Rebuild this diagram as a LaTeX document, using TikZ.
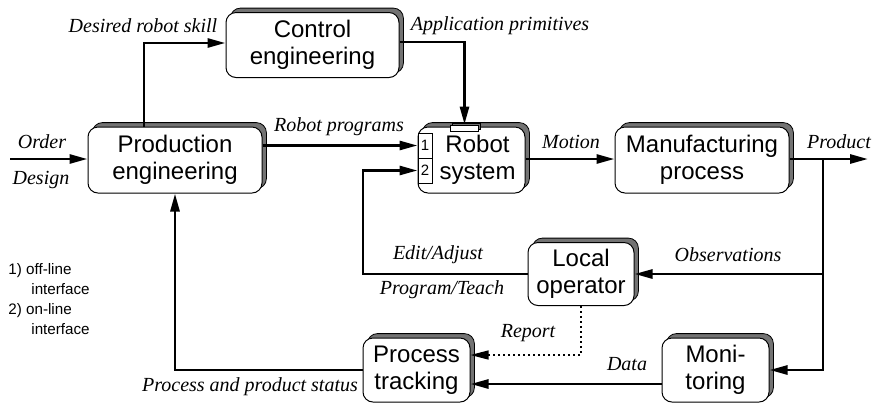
\documentclass[tikz,border=0pt]{standalone}
\usepackage{fontspec}
\setmainfont{Liberation Serif}
\setsansfont{Liberation Sans}
\usetikzlibrary{arrows.meta,shadows}

\begin{document}
\begin{tikzpicture}[x=0.5pt, y=-0.5pt,
  box/.style={rectangle, rounded corners=5pt, draw, line width=0.5pt, fill=white, align=center, inner sep=0pt, font=\sffamily\fontsize{12}{13.5}\selectfont, general shadow={fill=black!55, draw, line width=0.4pt, shadow xshift=2.2pt, shadow yshift=2.2pt}},
  cell/.style={rectangle, draw, line width=0.5pt, fill=white, minimum width=7pt, minimum height=12.5pt, inner sep=0pt, font=\sffamily\fontsize{7.5}{8}\selectfont},
  portbox/.style={rectangle, draw, line width=0.5pt, fill=white, minimum width=14pt, minimum height=3pt, inner sep=0pt, general shadow={fill=black!55, draw, line width=0.4pt, shadow xshift=1pt, shadow yshift=1pt}},
  lbl/.style={font=\itshape\fontsize{10}{12}\selectfont, inner sep=0pt},
  arr/.style={line width=1.4pt, -{Triangle[length=9pt,width=4.5pt]}}]
  \useasboundingbox (0,0) rectangle (872,404);

  \node[box, minimum width=86.5pt, minimum height=32.5pt] (ctrl) at (312.5,45) {Control\\engineering};
  \node[box, minimum width=87pt, minimum height=33pt] (prod) at (175,160) {Production\\engineering};
  \node[box, minimum width=53.5pt, minimum height=33pt] (robot) at (471.5,160) {\hspace*{6pt}Robot\\\hspace*{6pt}system};
  \node[box, minimum width=87pt, minimum height=33pt] (manuf) at (702,160) {Manufacturing\\process};
  \node[box, minimum width=53pt, minimum height=31.5pt] (local) at (581,274) {Local\\operator};
  \node[box, minimum width=53.5pt, minimum height=32pt] (track) at (416.5,370) {Process\\tracking};
  \node[box, minimum width=53.5pt, minimum height=32pt] (monit) at (715.5,370) {Moni-\\toring};

  \node[cell] (c1) at (425,145.5) {1};
  \node[cell] (c2) at (425,170.5) {2};
  \node[portbox] (port) at (464.5,128) {};

  \coordinate (in) at (10,159);
  \coordinate (out) at (868,159);
  \coordinate (split) at (823,159);
  \coordinate (turn) at (363,274);

  \draw[arr] (in) -- (in -| prod.west);
  \draw[arr] ([xshift=-15.5pt]prod.north) |- ([yshift=1pt]ctrl.west);
  \draw[arr] ([yshift=1.5pt]ctrl.east) -| (port.north);
  \draw[arr] (c1.west -| prod.east) -- (c1.west);
  \draw[arr] (robot.east |- in) -- (manuf.west |- in);
  \draw[arr] (manuf.east |- in) -- (out);
  \draw[arr] (split) |- (monit.east);
  \draw[arr] (split |- local.east) -- (local.east);
  \draw[arr] (local.west) -- (turn) |- (c2.west);
  \draw[arr, line width=0.6pt, dash pattern=on 1pt off 1.5pt] (local.south) |- ([yshift=7.5pt]track.east);
  \draw[arr] ([yshift=-7pt]monit.west) -- ([yshift=-7pt]track.east);
  \draw[arr] (track.west) -| (prod.south);

  \node[lbl] (desired) at (143,26) {Desired robot skill};
  \node[lbl] (appl) at (500,26) {Application primitives};
  \node[lbl] (progs) at (339,127) {Robot programs};
  \node[lbl] (order) at (42,142) {Order};
  \node[lbl] (design) at (41,180) {Design};
  \node[lbl] (motion) at (571,142) {Motion};
  \node[lbl] (product) at (839,142) {Product};
  \node[lbl] (edit) at (438,255) {Edit/Adjust};
  \node[lbl] (teach) at (442,290) {Program/Teach};
  \node[lbl] (obs) at (728,255) {Observations};
  \node[lbl] (report) at (528,333) {Report};
  \node[lbl] (data) at (627,364) {Data};
  \node[lbl] (status) at (250,387) {Process and product status};

  \node[anchor=west, inner sep=0pt, align=left, font=\sffamily\fontsize{7.6}{10}\selectfont] (notes) at (8,299) {1) off-line\\\hspace*{11.5pt}interface\\2) on-line\\\hspace*{11.5pt}interface};
\end{tikzpicture}
\end{document}
